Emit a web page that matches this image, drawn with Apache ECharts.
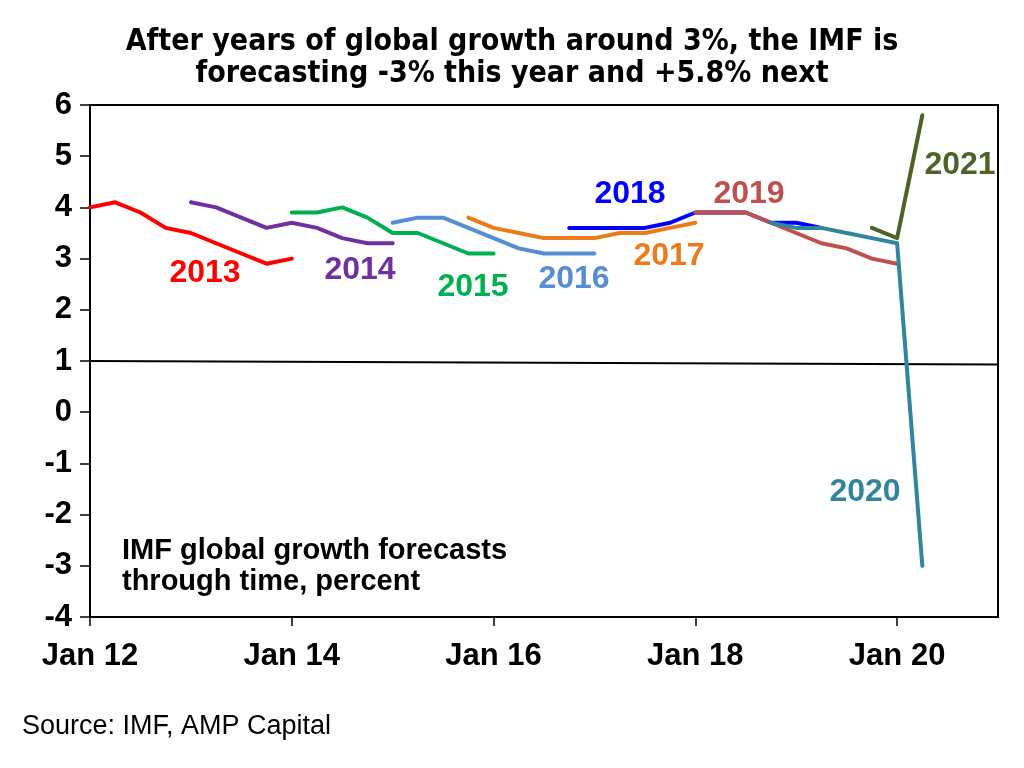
<!DOCTYPE html>
<html><head><meta charset="utf-8">
<script src="https://cdn.jsdelivr.net/npm/echarts@6/dist/echarts.min.js"></script>
<style>html,body{margin:0;padding:0;background:#fff}#c{width:1024px;height:768px}</style>
</head><body><div id="c"></div>
<script>
// Quarterly IMF WEO releases (x axis categories)
const quarters = [
 'Jan 12','Apr 12','Jul 12','Oct 12','Jan 13','Apr 13','Jul 13','Oct 13',
 'Jan 14','Apr 14','Jul 14','Oct 14','Jan 15','Apr 15','Jul 15','Oct 15',
 'Jan 16','Apr 16','Jul 16','Oct 16','Jan 17','Apr 17','Jul 17','Oct 17',
 'Jan 18','Apr 18','Jul 18','Oct 18','Jan 19','Apr 19','Jul 19','Oct 19',
 'Jan 20','Apr 20','Jul 20','Oct 20','Jan 21'
];
const yTicks = [-4,-3,-2,-1,0,1,2,3,4,5,6];

// Forecasts for each target year, starting at the release named in *Start
const f2013Start = 'Jan 12'; const f2013 = [4.0,4.1,3.9,3.6,3.5,3.3,3.1,2.9,3.0];
const f2014Start = 'Jan 13'; const f2014 = [4.1,4.0,3.8,3.6,3.7,3.6,3.4,3.3,3.3];
const f2015Start = 'Jan 14'; const f2015 = [3.9,3.9,4.0,3.8,3.5,3.5,3.3,3.1,3.1];
const f2016Start = 'Jan 15'; const f2016 = [3.7,3.8,3.8,3.6,3.4,3.2,3.1,3.1,3.1];
const f2017Start = 'Oct 15'; const f2017 = [3.8,3.6,3.5,3.4,3.4,3.4,3.5,3.5,3.6,3.7];
const f2018Start = 'Oct 16'; const f2018 = [3.6,3.6,3.6,3.6,3.7,3.9,3.9,3.9,3.7,3.7,3.6];
const f2019Start = 'Jan 18'; const f2019 = [3.9,3.9,3.9,3.7,3.5,3.3,3.2,3.0,2.9];
const f2020Start = 'Oct 18'; const f2020 = [3.7,3.6,3.6,3.5,3.4,3.3,-3.0];
const f2021Start = 'Oct 19'; const f2021 = [3.6,3.4,5.8];

// Reference line (start and end values)
const refLine = [1.0, 0.93];

const chart = echarts.init(document.getElementById('c'));
function pts(start, vals){ const s = quarters.indexOf(start); return vals.map((v,i)=>[s+i, v]); }
function ser(name, start, vals, color){
  return {name, type:'line', data: pts(start, vals), symbol:'none', silent:true,
    lineStyle:{color, width:4, cap:'round', join:'round'}, itemStyle:{color}};
}
const showIdx = (i)=> i % 8 === 0 && i < 36;
const FONT = 'Liberation Sans, Arial, sans-serif';
const NARROW = '"Liberation Sans Narrow", "Arial Narrow", "DejaVu Sans Condensed", sans-serif';

function lbl(text, x, y, color){
  return {type:'text', x:x, y:y, style:{text, fill:color, font:'bold 32px ' + FONT, align:'center', verticalAlign:'middle'}, z:100};
}

chart.setOption({
  animation:false,
  backgroundColor:'#fff',
  grid:{left:90, right:26, top:105, bottom:151, show:true, borderColor:'#000', borderWidth:2, containLabel:false},
  xAxis:{type:'category', data:quarters, boundaryGap:false,
    axisLine:{show:true, onZero:false, lineStyle:{color:'#000', width:2}},
    axisTick:{show:true, interval:(i)=>showIdx(i), length:9, lineStyle:{color:'#000', width:1.5}},
    axisLabel:{interval:(i)=>showIdx(i), color:'#000', fontSize:31, fontWeight:'bold', fontFamily:FONT, margin:24},
    splitLine:{show:false}},
  yAxis:{type:'value', min:yTicks[0], max:yTicks[yTicks.length-1], interval:1,
    axisLine:{show:true, lineStyle:{color:'#000', width:2}},
    axisTick:{show:true, length:10, lineStyle:{color:'#000', width:1.5}},
    axisLabel:{color:'#000', fontSize:31, fontWeight:'bold', fontFamily:FONT, margin:18},
    splitLine:{show:false}},
  series:[
    {type:'line', data:[[0, refLine[0]],[quarters.length-1, refLine[1]]], symbol:'none', silent:true, lineStyle:{color:'#000', width:2}},
    ser('2013', f2013Start, f2013, '#FF0000'),
    ser('2014', f2014Start, f2014, '#7030A0'),
    ser('2015', f2015Start, f2015, '#00B050'),
    ser('2016', f2016Start, f2016, '#558ED5'),
    ser('2017', f2017Start, f2017, '#EE7B1A'),
    ser('2018', f2018Start, f2018, '#0000FF'),
    ser('2019', f2019Start, f2019, '#C0504D'),
    ser('2020', f2020Start, f2020, '#31859C'),
    ser('2021', f2021Start, f2021, '#4F6228')
  ],
  graphic:[
    {type:'text', x:512, y:58, style:{text:'After years of global growth around 3%, the IMF is\nforecasting -3% this year and +5.8% next', fill:'#000', font:'bold 30px ' + NARROW, align:'center', verticalAlign:'middle', lineHeight:32}},
    lbl('2013', 205, 273, '#FF0000'),
    lbl('2014', 360, 270, '#7030A0'),
    lbl('2015', 473, 287, '#00B050'),
    lbl('2016', 574, 279, '#558ED5'),
    lbl('2017', 669, 256, '#EE7B1A'),
    lbl('2018', 630, 194, '#0000FF'),
    lbl('2019', 749, 194, '#C0504D'),
    lbl('2020', 865, 492, '#31859C'),
    lbl('2021', 960, 165, '#4F6228'),
    {type:'text', x:122, y:566, style:{text:'IMF global growth forecasts\nthrough time, percent', fill:'#000', font:'bold 29px ' + FONT, verticalAlign:'middle', lineHeight:31}},
    {type:'text', x:22, y:727, style:{text:'Source: IMF, AMP Capital', fill:'#000', font:'27px ' + FONT, verticalAlign:'middle'}}
  ]
});
</script></body></html>
